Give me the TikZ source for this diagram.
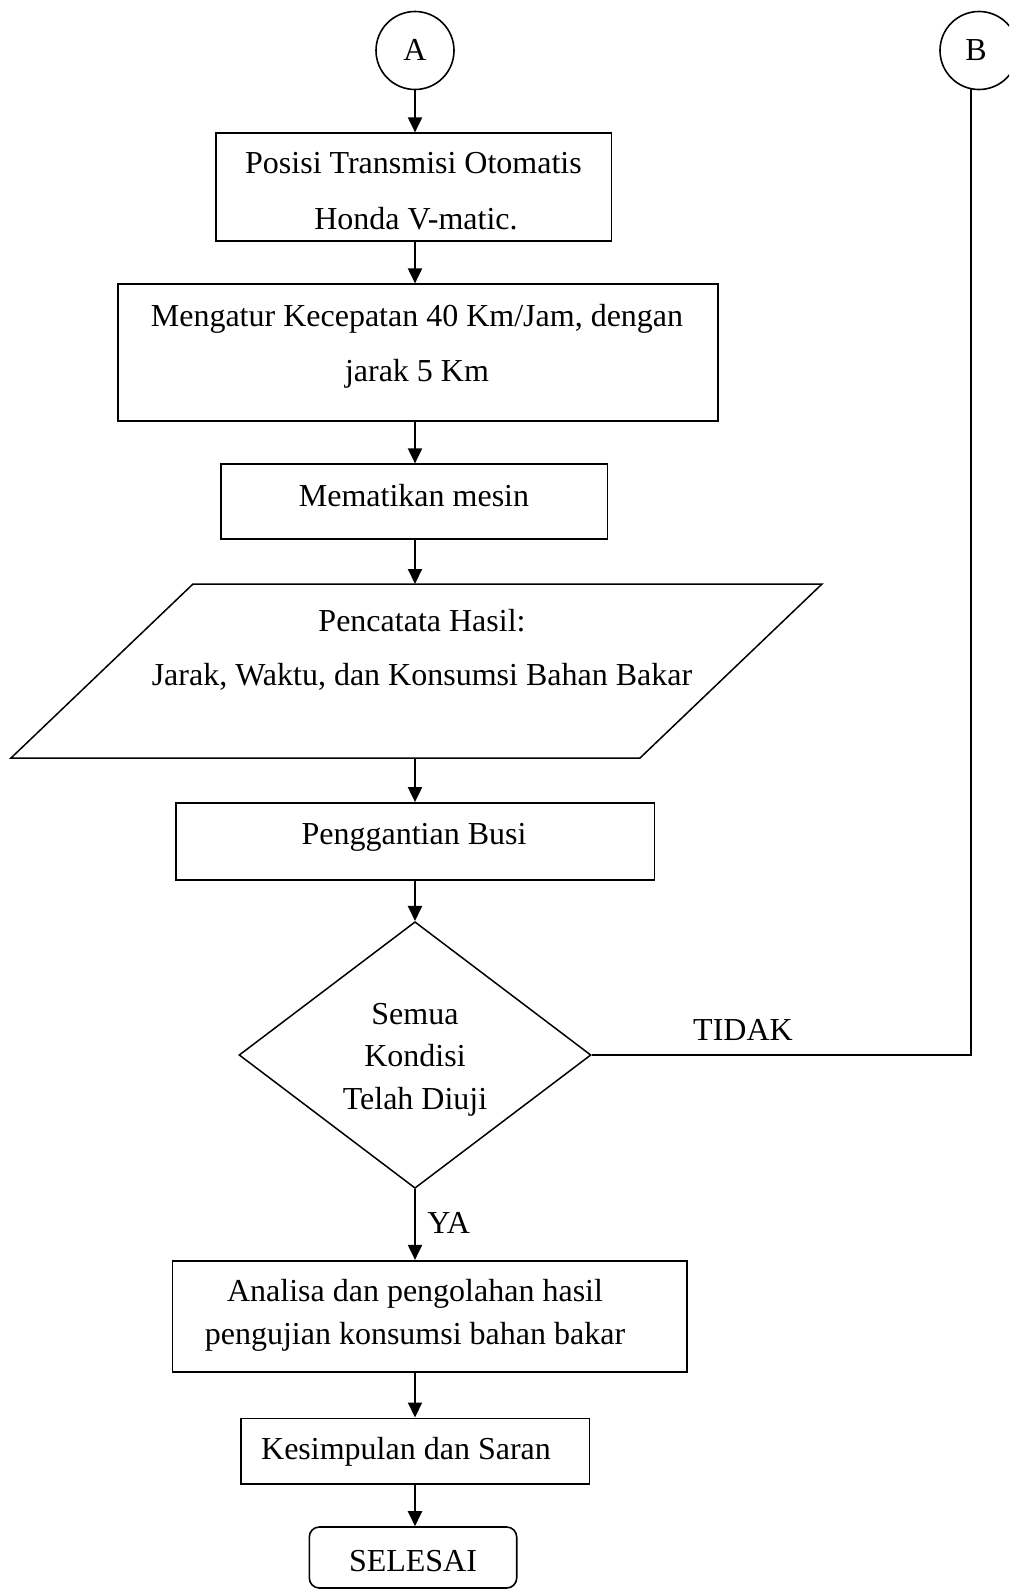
\documentclass[tikz,border=0pt]{standalone}
\usepackage{fontspec}
\setmainfont{Liberation Serif}
\usetikzlibrary{shapes.geometric, arrows.meta, calc}
\begin{document}
\begin{tikzpicture}[x=0.5pt, y=-0.5pt,
  box/.style={draw, rectangle, line width=0.9pt, inner sep=0pt},
  lbl/.style={font=\fontsize{16}{19}\selectfont, inner sep=0pt, anchor=base},
  arr/.style={line width=1pt, -{Triangle[length=7.5pt, width=7pt]}},
  ln/.style={line width=1pt},
  conn/.style={draw, circle, line width=0.8pt, minimum size=39pt, inner sep=0pt}]
\useasboundingbox (0,0) rectangle (1009,1590);
\clip (0,0) rectangle (1009,1590);

% connectors
\node[conn] (A) at (415,50.5) {};
\node[lbl] (tA) at (415,60.5) {A};
\node[conn] (B) at (979,50.5) {};
\node[lbl] (tB) at (976,60.5) {B};
\coordinate (bb) at (971,88.5);

% boxes
\node[box, minimum width=197.9pt, minimum height=53.7pt] (posisi) at (413.5,187) {};
\node[lbl] (t1a) at (413.5,173) {Posisi Transmisi Otomatis};
\node[lbl] (t1b) at (416,229) {Honda V-matic.};

\node[box, minimum width=299.9pt, minimum height=68.4pt] (mengatur) at (417.7,352.7) {};
\node[lbl] (t2a) at (417,326) {Mengatur Kecepatan 40 Km/Jam, dengan};
\node[lbl] (t2b) at (417,381) {jarak 5 Km};

\node[box, minimum width=193.4pt, minimum height=37.4pt] (mematikan) at (414.1,501.7) {};
\node[lbl] (t3) at (414,506) {Mematikan mesin};

% parallelogram
\coordinate (pTL) at (193,584);
\coordinate (pTR) at (822,584);
\coordinate (pBR) at (640,758);
\coordinate (pBL) at (11,758);
\coordinate (pTop) at (415,584);
\coordinate (pBot) at (415,758);
\draw[line width=0.75pt] (pTL) -- (pTR) -- (pBR) -- (pBL) -- cycle;
\node[lbl] (t4a) at (422,631) {Pencatata Hasil:};
\node[lbl] (t4b) at (422,685) {Jarak, Waktu, dan Konsumsi Bahan Bakar};

\node[box, minimum width=239.4pt, minimum height=38.5pt] (ganti) at (415,841.5) {};
\node[lbl] (t5) at (414,844) {Penggantian Busi};

% decision
\node[draw, diamond, line width=0.75pt, minimum width=176pt, minimum height=133.3pt, inner sep=0pt] (dec) at (415,1055) {};
\node[lbl] (t6a) at (415,1024) {Semua};
\node[lbl] (t6b) at (415,1066) {Kondisi};
\node[lbl] (t6c) at (415,1109) {Telah Diuji};
\node[lbl] (tidak) at (743,1040) {TIDAK};
\node[lbl, anchor=base west] (ya) at (427,1233) {YA};

\node[box, line width=0.8pt, minimum width=257.2pt, minimum height=55.5pt] (analisa) at (429.5,1316.2) {};
\node[lbl] (t7a) at (415,1301) {Analisa dan pengolahan hasil};
\node[lbl] (t7b) at (415,1344) {pengujian konsumsi bahan bakar};

\node[box, line width=0.8pt, minimum width=174.3pt, minimum height=32.9pt] (kesimpulan) at (415,1451.2) {};
\node[lbl] (t8) at (406,1459) {Kesimpulan dan Saran};

\node[box, line width=0.8pt, rounded corners=5pt, minimum width=103.7pt, minimum height=30.5pt] (selesai) at (413,1557.5) {};
\node[lbl] (t9) at (413,1571) {SELESAI};

% connectors
\draw[arr] (A.south) -- (posisi.north -| A.south);
\draw[arr] (posisi.south -| A.south) -- (mengatur.north -| A.south);
\draw[arr] (mengatur.south -| A.south) -- (mematikan.north -| A.south);
\draw[arr] (mematikan.south -| A.south) -- (pTop);
\draw[arr] (pBot) -- (ganti.north -| A.south);
\draw[arr] (ganti.south -| A.south) -- (dec.north);
\draw[arr] (dec.south) -- (analisa.north -| dec.south);
\draw[arr] (analisa.south -| A.south) -- (kesimpulan.north -| A.south);
\draw[arr] (kesimpulan.south -| A.south) -- (selesai.north -| A.south);
\draw[ln] (dec.east) -| (bb);
\end{tikzpicture}
\end{document}
